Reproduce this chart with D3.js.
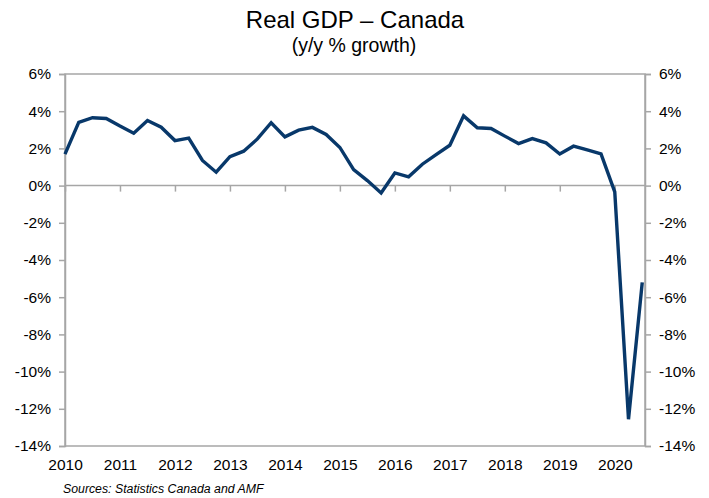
<!DOCTYPE html>
<html>
<head>
<meta charset="utf-8">
<script src="https://cdn.jsdelivr.net/npm/d3@7"></script>
<style>
  html, body { margin: 0; padding: 0; background: #fff; }
  svg { display: block; font-family: "Liberation Sans", Arial, sans-serif; }
</style>
</head>
<body>
<svg id="chart" width="709" height="498"></svg>
<script>
// Quarterly real GDP growth, year over year (%), 2010 Q1 – 2020 Q3
const quarters = [
  "2010Q1","2010Q2","2010Q3","2010Q4",
  "2011Q1","2011Q2","2011Q3","2011Q4",
  "2012Q1","2012Q2","2012Q3","2012Q4",
  "2013Q1","2013Q2","2013Q3","2013Q4",
  "2014Q1","2014Q2","2014Q3","2014Q4",
  "2015Q1","2015Q2","2015Q3","2015Q4",
  "2016Q1","2016Q2","2016Q3","2016Q4",
  "2017Q1","2017Q2","2017Q3","2017Q4",
  "2018Q1","2018Q2","2018Q3","2018Q4",
  "2019Q1","2019Q2","2019Q3","2019Q4",
  "2020Q1","2020Q2","2020Q3"
];
const growth = [
  1.69, 3.40, 3.65, 3.61,
  3.20, 2.82, 3.50, 3.14,
  2.42, 2.55, 1.35, 0.72,
  1.56, 1.85, 2.51, 3.38,
  2.62, 2.98, 3.13, 2.75,
  2.05, 0.86, 0.27, -0.40,
  0.68, 0.47, 1.15, 1.67,
  2.17, 3.75, 3.11, 3.07,
  2.66, 2.26, 2.53, 2.30,
  1.70, 2.12, 1.92, 1.70,
  -0.34, -12.56, -5.20
];
const yearLabels = ["2010","2011","2012","2013","2014","2015","2016","2017","2018","2019","2020"];
const yTicks = [6, 4, 2, 0, -2, -4, -6, -8, -10, -12, -14];

const svg = d3.select("#chart");
const plot = { left: 65, right: 645, top: 74, bottom: 446 };
const gray = "#a6a6a6";
const navy = "#08386a";

const x = d3.scaleLinear().domain([0, 42.2]).range([plot.left, plot.right]);
const y = d3.scaleLinear().domain([-14, 6]).range([plot.bottom, plot.top]);

// Titles
svg.append("text").attr("x", 355).attr("y", 28).attr("text-anchor", "middle")
  .style("font-size", "24px").attr("fill", "#000").text("Real GDP – Canada");
svg.append("text").attr("x", 354).attr("y", 52).attr("text-anchor", "middle")
  .style("font-size", "19.5px").attr("fill", "#000").text("(y/y % growth)");

// Plot frame
svg.append("rect").attr("x", plot.left).attr("y", plot.top)
  .attr("width", plot.right - plot.left).attr("height", plot.bottom - plot.top)
  .attr("fill", "none").attr("stroke", gray).attr("stroke-width", 1.5);

// Left and right value axes
const fmt = d => d + "%";
const yLeft = d3.axisLeft(y).tickValues(yTicks).tickFormat(fmt).tickSize(6).tickPadding(8);
const yRight = d3.axisRight(y).tickValues(yTicks).tickFormat(fmt).tickSize(6).tickPadding(8);

function styleAxis(g) {
  g.select(".domain").attr("stroke", gray).attr("stroke-width", 1.5);
  g.selectAll(".tick line").attr("stroke", gray).attr("stroke-width", 1.5);
  g.selectAll(".tick text").attr("fill", "#000").style("font-size", "15.5px")
    .style("font-family", "'Liberation Sans', Arial, sans-serif");
}
svg.append("g").attr("transform", `translate(${plot.left},0)`).call(yLeft).call(styleAxis)
  .selectAll(".tick text").attr("x", -14);
svg.append("g").attr("transform", `translate(${plot.right},0)`).call(yRight).call(styleAxis)
  .selectAll(".tick text").attr("x", 14);

// Category axis crossing at zero, with ticks at the start of each year
const yearIdx = yearLabels.map((_, i) => i * 4);
const xZero = d3.axisBottom(x).tickValues(yearIdx).tickFormat("").tickSize(6);
svg.append("g").attr("transform", `translate(0,${y(0)})`).call(xZero)
  .call(g => {
    g.select(".domain").remove();
    g.selectAll(".tick line").attr("stroke", gray).attr("stroke-width", 1.5);
  });
svg.append("line").attr("x1", plot.left).attr("x2", plot.right)
  .attr("y1", y(0)).attr("y2", y(0)).attr("stroke", gray).attr("stroke-width", 1.5);

// Year labels below the plot
const xLabels = d3.axisBottom(x).tickValues(yearIdx)
  .tickFormat((d, i) => yearLabels[i]).tickSize(0).tickPadding(13);
svg.append("g").attr("transform", `translate(0,${plot.bottom})`).call(xLabels)
  .call(g => {
    g.select(".domain").remove();
    g.selectAll(".tick text").attr("fill", "#000").style("font-size", "15.5px")
      .style("font-family", "'Liberation Sans', Arial, sans-serif");
  });

// GDP growth line
const line = d3.line().x((d, i) => x(i)).y(d => y(d));
svg.append("path").datum(growth).attr("d", line)
  .attr("fill", "none").attr("stroke", navy).attr("stroke-width", 3.4)
  .attr("stroke-linejoin", "miter").attr("stroke-linecap", "butt");

// Source note
svg.append("text").attr("x", 63).attr("y", 493)
  .style("font-size", "12.3px").style("font-style", "italic").attr("fill", "#000")
  .text("Sources: Statistics Canada and AMF");
</script>
</body>
</html>
